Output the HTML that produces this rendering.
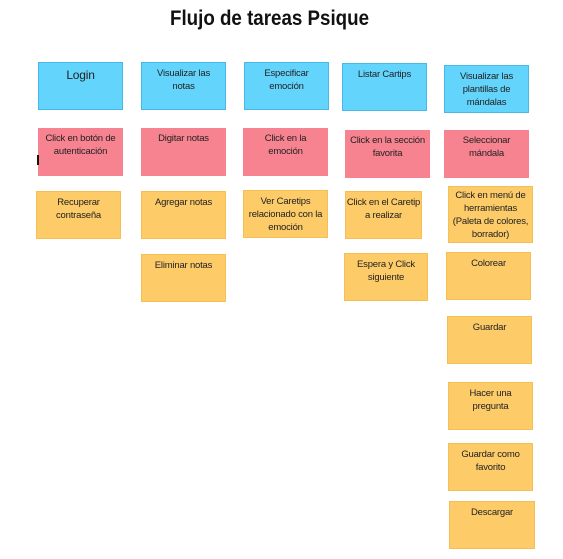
<!DOCTYPE html>
<html><head><meta charset="utf-8"><style>
body{margin:0;width:563px;height:559px;background:#fff;position:relative;overflow:hidden;font-family:"Liberation Sans",sans-serif;}
.n{position:absolute;box-sizing:border-box;text-align:center;font-size:9.5px;line-height:13px;color:#222;padding-top:4px;white-space:nowrap;letter-spacing:-0.2px;}
.b{background:#63d4fc;border:1px solid #4ab8e6;}
.p{background:#f78390;}
.o{background:#fdcb68;border:1px solid #f5bf55;}
</style></head><body>
<svg style="position:absolute;left:0;top:0" width="563" height="40"><text x="170" y="25" textLength="199" lengthAdjust="spacingAndGlyphs" font-family="Liberation Sans" font-weight="bold" font-size="21" fill="#111">Flujo de tareas Psique</text></svg>
<div class="n b" style="left:38px;top:62px;width:85px;height:48px;font-size:12px;padding-top:6px">Login</div>
<div class="n b" style="left:141px;top:62px;width:85px;height:48px">Visualizar las<br>notas</div>
<div class="n b" style="left:244px;top:62px;width:85px;height:48px">Especificar<br>emoción</div>
<div class="n b" style="left:342px;top:63px;width:85px;height:48px">Listar Cartips</div>
<div class="n b" style="left:444px;top:65px;width:85px;height:48px">Visualizar las<br>plantillas de<br>mándalas</div>

<div class="n p" style="left:38px;top:128px;width:85px;height:48px">Click en botón de<br>autenticación</div>
<div style="position:absolute;left:37px;top:155px;width:2px;height:10px;background:#111"></div>
<div class="n p" style="left:141px;top:128px;width:85px;height:48px">Digitar notas</div>
<div class="n p" style="left:243px;top:128px;width:85px;height:48px">Click en la<br>emoción</div>
<div class="n p" style="left:345px;top:130px;width:85px;height:48px">Click en la sección<br>favorita</div>
<div class="n p" style="left:444px;top:130px;width:85px;height:48px">Seleccionar<br>mándala</div>

<div class="n o" style="left:36px;top:191px;width:85px;height:48px">Recuperar<br>contraseña</div>
<div class="n o" style="left:141px;top:191px;width:85px;height:48px">Agregar notas</div>
<div class="n o" style="left:243px;top:190px;width:85px;height:48px">Ver Caretips<br>relacionado con la<br>emoción</div>
<div class="n o" style="left:345px;top:191px;width:77px;height:48px">Click en el Caretip<br>a realizar</div>
<div class="n o" style="left:448px;top:186px;width:85px;height:57px;padding-top:2px">Click en menú de<br>herramientas<br>(Paleta de colores,<br>borrador)</div>
<div class="n o" style="left:141px;top:254px;width:85px;height:48px">Eliminar notas</div>
<div class="n o" style="left:344px;top:253px;width:84px;height:48px">Espera y Click<br>siguiente</div>
<div class="n o" style="left:446px;top:252px;width:85px;height:48px">Colorear</div>
<div class="n o" style="left:447px;top:316px;width:85px;height:48px">Guardar</div>
<div class="n o" style="left:448px;top:382px;width:85px;height:48px">Hacer una<br>pregunta</div>
<div class="n o" style="left:448px;top:443px;width:85px;height:48px">Guardar como<br>favorito</div>
<div class="n o" style="left:449px;top:501px;width:86px;height:48px">Descargar</div>
</body></html>
